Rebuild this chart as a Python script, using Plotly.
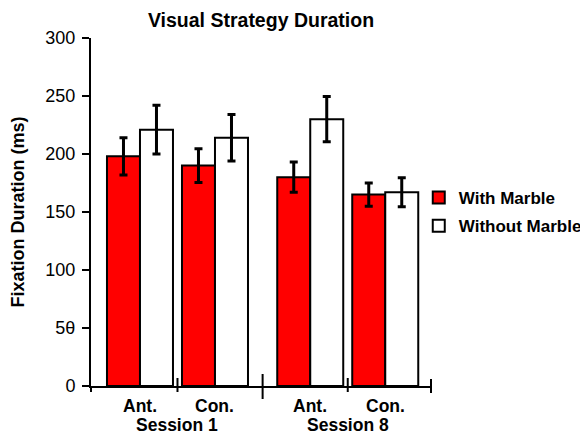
import plotly.graph_objects as go

# ---- data ----
groups = ["Ant.", "Con.", "Ant.", "Con."]
sessions = ["Session 1", "Session 8"]
with_marble = [198, 190, 180, 165]
with_marble_err = [16, 14.5, 13, 10]
without_marble = [221, 214, 230, 167]
without_marble_err = [21, 20, 19.5, 12.5]
y_tickvals = [0, 50, 100, 150, 200, 250, 300]
y_ticktext = ["0", "5θ", "100", "150", "200", "250", "300"]

# ---- layout constants ----
pos = [0, 1, 2.27, 3.27]
x_min, x_max = -0.653, 3.88
FONT = "Arial, Liberation Sans, sans-serif"
OFF = 8  # default page body margin
W, H = 588 - OFF, 435 - OFF

def px(xd):
    return (xd - x_min) / (x_max - x_min)

fig = go.Figure()
fig.add_trace(go.Bar(
    x=pos, y=with_marble, name="<b>With Marble</b>", legendgroup="a",
    marker=dict(color="#FF0000", line=dict(color="black", width=2)),
    error_y=dict(type="data", array=with_marble_err, color="black", thickness=3, width=4),
))
fig.add_trace(go.Bar(
    x=pos, y=without_marble, name="<b>Without Marble</b>", legendgroup="b",
    marker=dict(color="white", line=dict(color="black", width=2)),
    error_y=dict(type="data", array=without_marble_err, color="black", thickness=3, width=4),
))

shapes = []
h = 348.0
def tick(xp, top_px, bot_px):
    shapes.append(dict(type="line", xref="paper", yref="paper",
                       x0=xp, x1=xp, y0=top_px / h, y1=-bot_px / h,
                       line=dict(color="black", width=2)))
tick(0, 0, 6)
tick(px((pos[0] + pos[1]) / 2), 8, 6)
tick(px((pos[1] + pos[2]) / 2), 12, 13)
tick(px((pos[2] + pos[3]) / 2), 8, 6)
tick(1, 7, 7)

annotations = []
for p, g in zip(pos, groups):
    annotations.append(dict(x=p, xref="x", y=-19.5 / h, yref="paper", text=f"<b>{g}</b>",
                            showarrow=False, xanchor="center", yanchor="middle",
                            borderpad=0,
                            font=dict(family=FONT, size=17.5, color="black")))
for i, s in enumerate(sessions):
    c = (pos[2 * i] + pos[2 * i + 1]) / 2
    annotations.append(dict(x=c, xref="x", y=-39 / h, yref="paper", text=f"<b>{s}</b>",
                            showarrow=False, xanchor="center", yanchor="middle",
                            borderpad=0,
                            font=dict(family=FONT, size=17.5, color="black")))

fig.update_layout(
    width=W, height=H,
    margin=dict(l=91 - OFF, r=157, t=38 - OFF, b=49, autoexpand=False),
    paper_bgcolor="white", plot_bgcolor="white",
    barmode="group", bargap=0.12, bargroupgap=0,
    font=dict(family=FONT, color="black"),
    title=dict(text="<b>Visual Strategy Duration</b>", x=0.5, xref="paper",
               y=1 - (20 - OFF) / H, yref="container", xanchor="center", yanchor="middle",
               font=dict(family=FONT, size=19.5, color="black")),
    xaxis=dict(range=[x_min, x_max], showline=True, linecolor="black", linewidth=2,
               showticklabels=False, ticks="", showgrid=False, zeroline=False),
    yaxis=dict(range=[0, 300], tickvals=y_tickvals, ticktext=y_ticktext,
               showline=True, linecolor="black", linewidth=2,
               ticks="outside", ticklen=7, tickwidth=2, tickcolor="black",
               ticklabelstandoff=3,
               showgrid=False, zeroline=False,
               tickfont=dict(family=FONT, size=18, color="black"),
               title=dict(text="<b>Fixation Duration (ms)</b>", standoff=16,
                          font=dict(family=FONT, size=18, color="black"))),
    legend=dict(x=0.964, xanchor="left", y=0.592, yanchor="top",
                font=dict(family=FONT, size=17, color="black"),
                bgcolor="rgba(0,0,0,0)", traceorder="grouped", tracegroupgap=3),
    shapes=shapes, annotations=annotations,
)

fig.write_html("out.html")
